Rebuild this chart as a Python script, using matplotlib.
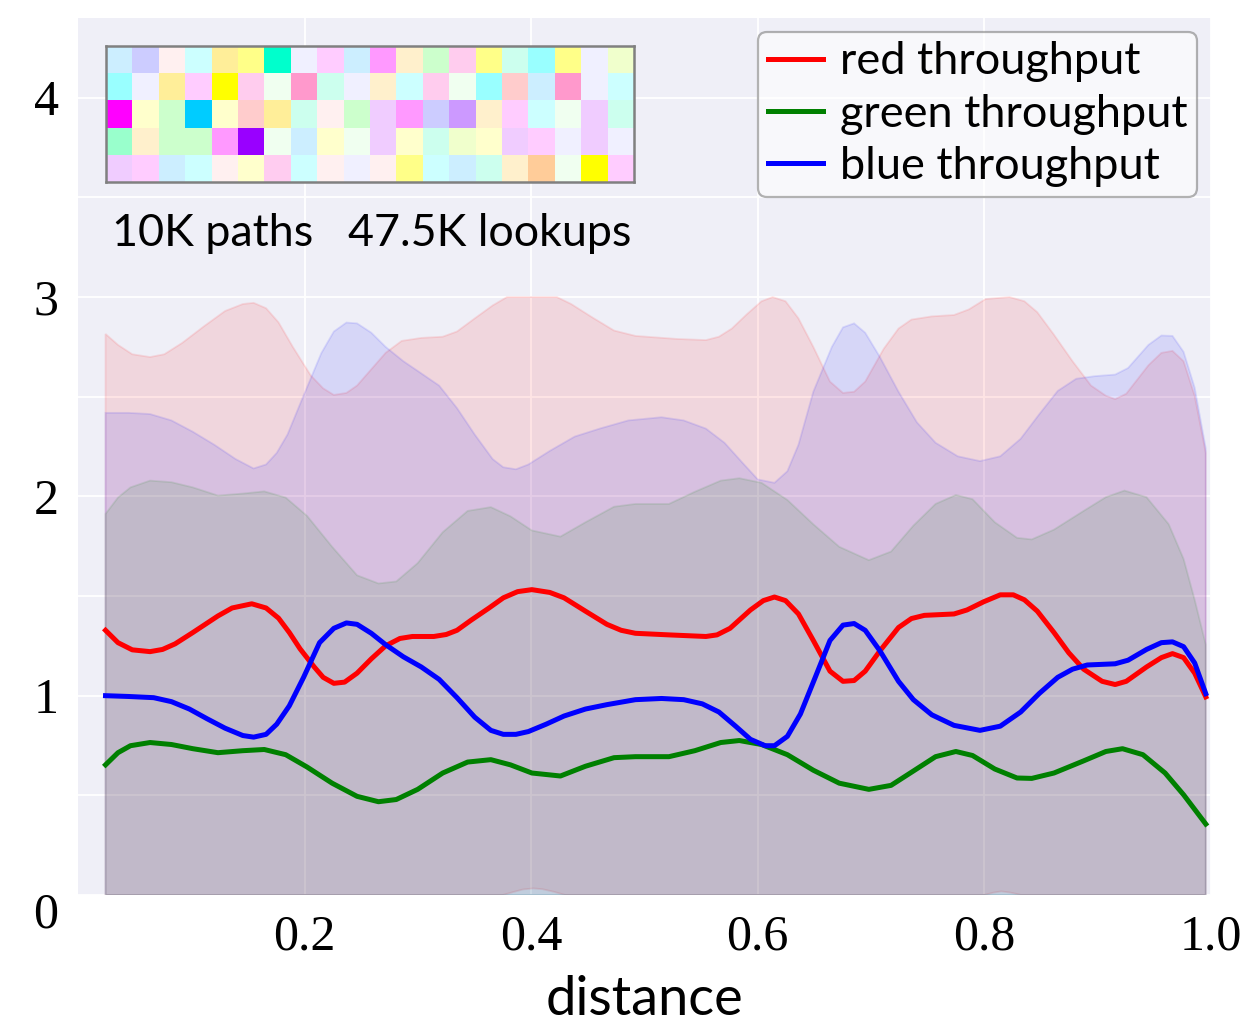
import matplotlib
matplotlib.use("Agg")
import matplotlib.pyplot as plt
import numpy as np
from matplotlib.ticker import MultipleLocator
from matplotlib.transforms import ScaledTranslation

# ---------------- data ----------------
red_x = [0.0243, 0.0353, 0.0479, 0.0636, 0.0746, 0.0857, 0.1014, 0.1235, 0.136, 0.1534,
         0.166, 0.177, 0.1865, 0.196, 0.2085, 0.2164, 0.2258, 0.2353, 0.2463, 0.2589,
         0.2715, 0.2841, 0.2951, 0.314, 0.325, 0.3345, 0.347, 0.3628, 0.3754, 0.388,
         0.4006, 0.4164, 0.429, 0.4479, 0.4668, 0.4794, 0.492, 0.5216, 0.5542, 0.564,
         0.5755, 0.5935, 0.6049, 0.6147, 0.6245, 0.6359, 0.649, 0.6637, 0.6752, 0.685,
         0.6948, 0.7078, 0.7242, 0.7356, 0.747, 0.7732, 0.7846, 0.7993, 0.814, 0.8255,
         0.8353, 0.8467, 0.8614, 0.8745, 0.8876, 0.9039, 0.9154, 0.9252, 0.9431, 0.9562,
         0.966, 0.9758, 0.9856, 0.9954]
red_y = [1.328, 1.266, 1.23, 1.221, 1.232, 1.26, 1.317, 1.40, 1.44, 1.461,
         1.44, 1.389, 1.317, 1.235, 1.144, 1.092, 1.062, 1.068, 1.113, 1.185,
         1.25, 1.287, 1.297, 1.297, 1.307, 1.328, 1.379, 1.44, 1.491, 1.522,
         1.532, 1.518, 1.491, 1.424, 1.358, 1.328, 1.313, 1.305, 1.297, 1.305,
         1.338, 1.43, 1.477, 1.495, 1.477, 1.41, 1.277, 1.123, 1.072, 1.076,
         1.123, 1.225, 1.342, 1.387, 1.403, 1.41, 1.43, 1.471, 1.506, 1.506,
         1.481, 1.424, 1.317, 1.215, 1.133, 1.072, 1.056, 1.072, 1.144, 1.191,
         1.211, 1.191, 1.113, 0.994]

blue_x = [0.0243, 0.0447, 0.0668, 0.0825, 0.0983, 0.114, 0.1298, 0.1455, 0.155, 0.166,
          0.1754, 0.1865, 0.1991, 0.2132, 0.2258, 0.2369, 0.2463, 0.2589, 0.2715, 0.2872,
          0.303, 0.3187, 0.3345, 0.3502, 0.3644, 0.3754, 0.3865, 0.3975, 0.4132, 0.429,
          0.4479, 0.4668, 0.492, 0.515, 0.5346, 0.551, 0.5657, 0.5804, 0.5935, 0.6065,
          0.6147, 0.6261, 0.6376, 0.6507, 0.6637, 0.6752, 0.685, 0.6948, 0.7078, 0.7242,
          0.7373, 0.7536, 0.7732, 0.7961, 0.814, 0.832, 0.8484, 0.8647, 0.8778, 0.8908,
          0.9154, 0.9268, 0.9431, 0.9562, 0.966, 0.9758, 0.9856, 0.9954]
blue_y = [1.0, 0.996, 0.990, 0.970, 0.933, 0.884, 0.837, 0.80, 0.792, 0.806,
          0.857, 0.949, 1.092, 1.266, 1.338, 1.365, 1.358, 1.313, 1.256, 1.195,
          1.144, 1.082, 0.990, 0.892, 0.826, 0.806, 0.806, 0.820, 0.857, 0.898,
          0.933, 0.955, 0.980, 0.986, 0.980, 0.959, 0.918, 0.847, 0.781, 0.749,
          0.749, 0.796, 0.908, 1.092, 1.277, 1.354, 1.362, 1.328, 1.225, 1.072,
          0.980, 0.904, 0.851, 0.826, 0.847, 0.918, 1.011, 1.092, 1.133, 1.154,
          1.160, 1.178, 1.232, 1.266, 1.27, 1.246, 1.164, 1.01]

green_x = [0.0243, 0.0353, 0.0463, 0.0636, 0.0825, 0.1014, 0.1235, 0.1455, 0.1644, 0.1833,
           0.2022, 0.2243, 0.2463, 0.2652, 0.2809, 0.2998, 0.3219, 0.3439, 0.3644, 0.3817,
           0.4006, 0.4258, 0.4479, 0.4731, 0.492, 0.5216, 0.5444, 0.5673, 0.5837, 0.6033,
           0.6261, 0.649, 0.6719, 0.698, 0.7176, 0.7373, 0.7569, 0.7748, 0.7895, 0.8092,
           0.8288, 0.8418, 0.8614, 0.8876, 0.9072, 0.9219, 0.9399, 0.9595, 0.9758, 0.9954]
green_y = [0.653, 0.714, 0.749, 0.765, 0.755, 0.734, 0.714, 0.724, 0.73, 0.704,
           0.642, 0.561, 0.495, 0.468, 0.479, 0.53, 0.612, 0.667, 0.679, 0.653,
           0.612, 0.597, 0.646, 0.689, 0.694, 0.694, 0.724, 0.765, 0.775, 0.755,
           0.704, 0.626, 0.561, 0.53, 0.55, 0.622, 0.694, 0.72, 0.70, 0.632,
           0.587, 0.585, 0.612, 0.673, 0.72, 0.734, 0.704, 0.612, 0.503, 0.356]

# upper edges of the shaded bands
red_up_x = [0.0243, 0.0353, 0.0479, 0.0636, 0.0762, 0.092, 0.1109, 0.1298, 0.1455, 0.155,
            0.166, 0.177, 0.1896, 0.2054, 0.2164, 0.2258, 0.2369, 0.2463, 0.2589, 0.2715,
            0.2857, 0.303, 0.3219, 0.3345, 0.3502, 0.366, 0.3786, 0.4227, 0.4353, 0.4542,
            0.4731, 0.492, 0.5281, 0.5542, 0.5657, 0.5771, 0.5902, 0.6033, 0.6131, 0.6245,
            0.6359, 0.649, 0.6637, 0.6752, 0.685, 0.6948, 0.7111, 0.7242, 0.7356, 0.7536,
            0.7732, 0.7863, 0.801, 0.8222, 0.8353, 0.8467, 0.8614, 0.8778, 0.8941, 0.9072,
            0.9154, 0.9252, 0.9448, 0.9562, 0.966, 0.9758, 0.9856, 0.9954]
red_up_y = [2.815, 2.76, 2.713, 2.699, 2.713, 2.77, 2.852, 2.93, 2.965, 2.971,
            2.944, 2.873, 2.75, 2.607, 2.542, 2.509, 2.519, 2.556, 2.638, 2.72,
            2.78, 2.795, 2.801, 2.827, 2.893, 2.958, 3.0, 3.0, 2.965, 2.897,
            2.832, 2.805, 2.79, 2.784, 2.801, 2.842, 2.913, 2.979, 3.0, 2.979,
            2.893, 2.75, 2.576, 2.519, 2.525, 2.576, 2.74, 2.842, 2.887, 2.903,
            2.91, 2.938, 2.99, 3.0, 2.979, 2.924, 2.811, 2.678, 2.556, 2.505,
            2.488, 2.515, 2.658, 2.72, 2.73, 2.678, 2.505, 2.218]

blue_up_x = [0.0243, 0.0447, 0.0636, 0.0825, 0.1014, 0.1203, 0.1392, 0.155, 0.166, 0.1754,
             0.1849, 0.1975, 0.2148, 0.2258, 0.2369, 0.2463, 0.2589, 0.2715, 0.2872, 0.303,
             0.3187, 0.3345, 0.3502, 0.366, 0.3754, 0.3865, 0.3975, 0.4164, 0.4384, 0.4605,
             0.4857, 0.515, 0.5346, 0.5542, 0.5706, 0.5869, 0.6, 0.6147, 0.6261, 0.6359,
             0.649, 0.6654, 0.6752, 0.685, 0.6948, 0.7078, 0.7242, 0.7405, 0.7569, 0.7765,
             0.7961, 0.814, 0.832, 0.8484, 0.8647, 0.881, 0.8974, 0.9154, 0.9268, 0.9448,
             0.9562, 0.966, 0.9758, 0.9856, 0.9954]
blue_up_y = [2.419, 2.419, 2.413, 2.381, 2.324, 2.259, 2.187, 2.14, 2.16, 2.218,
             2.31, 2.484, 2.719, 2.827, 2.872, 2.868, 2.821, 2.75, 2.678, 2.617,
             2.556, 2.443, 2.31, 2.187, 2.146, 2.136, 2.16, 2.228, 2.30, 2.34,
             2.381, 2.397, 2.381, 2.34, 2.269, 2.166, 2.085, 2.068, 2.126, 2.259,
             2.525, 2.75, 2.848, 2.868, 2.821, 2.699, 2.525, 2.371, 2.269, 2.201,
             2.177, 2.201, 2.289, 2.412, 2.529, 2.59, 2.603, 2.611, 2.644, 2.76,
             2.807, 2.805, 2.725, 2.545, 2.24]

green_up_x = [0.0243, 0.0353, 0.0463, 0.0636, 0.0825, 0.1014, 0.1235, 0.1455, 0.1644, 0.1833,
              0.2022, 0.2243, 0.2463, 0.2652, 0.2809, 0.2998, 0.3219, 0.3439, 0.3644, 0.3817,
              0.4006, 0.4258, 0.4479, 0.4731, 0.492, 0.5216, 0.5444, 0.5673, 0.5837, 0.6033,
              0.6261, 0.649, 0.6719, 0.698, 0.7176, 0.7373, 0.7569, 0.7748, 0.7895, 0.8092,
              0.8288, 0.8418, 0.8614, 0.8876, 0.9072, 0.9236, 0.9431, 0.9627, 0.9758, 0.9856,
              0.9954]
green_up_y = [1.912, 1.994, 2.045, 2.079, 2.071, 2.045, 2.004, 2.014, 2.025, 1.994,
              1.902, 1.747, 1.604, 1.563, 1.573, 1.665, 1.82, 1.927, 1.946, 1.90,
              1.829, 1.798, 1.87, 1.948, 1.962, 1.962, 2.023, 2.079, 2.091, 2.068,
              1.982, 1.86, 1.747, 1.68, 1.723, 1.853, 1.962, 2.007, 1.986, 1.87,
              1.792, 1.784, 1.833, 1.927, 1.996, 2.029, 1.996, 1.86, 1.686, 1.481,
              1.256]

# lower edges of the shaded bands (visible part; zero = bottom of the plot)
red_lo_x = [0.0243, 0.375, 0.385, 0.393, 0.402, 0.41, 0.42, 0.43,
            0.80, 0.808, 0.815, 0.823, 0.8325, 0.9954]
red_lo_y = [0.0, 0.0, 0.016, 0.028, 0.033, 0.029, 0.016, 0.0,
            0.0, 0.012, 0.018, 0.012, 0.0, 0.0]
blue_lo_x = [0.0243, 0.9954]
blue_lo_y = [0.0, 0.0]
green_lo_x = [0.0243, 0.9954]
green_lo_y = [0.0, 0.0]

series_names = ["red throughput", "green throughput", "blue throughput"]
series_colors = ["red", "green", "blue"]

xtick_vals = [0.2, 0.4, 0.6, 0.8, 1.0]
xtick_labels = ["0.2", "0.4", "0.6", "0.8", "1.0"]
ytick_vals = [0, 1, 2, 3, 4]
ytick_labels = ["0", "1", "2", "3", "4"]

inset_colors = [
    ["#CCEEFF", "#CCCCFF", "#FFF0F0", "#CCFFFF", "#FFEE99", "#FFFF88", "#00FFCC", "#F0F0FF", "#FFCCFF", "#CCEEFF",
     "#FF99FF", "#FFF0CC", "#CCFFCC", "#FFCCEE", "#FFFF88", "#CCFFEE", "#99FFFF", "#FFFF88", "#F0F0FF", "#F0FFCC"],
    ["#99FFFF", "#F0F0FF", "#FFEE99", "#FFCCFF", "#FFFF00", "#FFCCEE", "#F0FFF0", "#FF99CC", "#CCFFEE", "#F0F0FF",
     "#FFF0CC", "#CCFFFF", "#FFCCEE", "#F0FFF0", "#99FFFF", "#FFCCCC", "#CCEEFF", "#FF99CC", "#F0F0FF", "#CCFFFF"],
    ["#FF00FF", "#FFFFCC", "#CCFFCC", "#00CCFF", "#FFFFCC", "#FFCCCC", "#FFEE99", "#CCFFEE", "#FFF0F0", "#CCFFCC",
     "#F0CCFF", "#FF99FF", "#CCCCFF", "#CC99FF", "#FFF0CC", "#FFCCFF", "#CCFFFF", "#F0FFF0", "#F0CCFF", "#CCFFEE"],
    ["#99FFCC", "#FFF0CC", "#CCFFCC", "#CCFFCC", "#FF99FF", "#9900FF", "#F0FFF0", "#CCEEFF", "#FFFFCC", "#F0FFF0",
     "#F0CCFF", "#FFFFCC", "#CCFFEE", "#F0FFCC", "#FFFFCC", "#F0CCFF", "#FFCCFF", "#F0F0FF", "#F0CCFF", "#F0F0FF"],
    ["#F0CCFF", "#FFCCFF", "#CCEEFF", "#CCFFFF", "#FFF0F0", "#FFFFCC", "#FFCCF0", "#CCFFFF", "#FFF0F0", "#F0F0FF",
     "#FFF0F0", "#FFFF88", "#CCFFFF", "#CCEEFF", "#CCFFEE", "#FFF0CC", "#FFCC99", "#F0FFF0", "#FFFF00", "#FFCCFF"],
]
inset_text_left = "10K paths"
inset_text_right = "47.5K lookups"
x_label = "distance"

# ---------------- drawing ----------------
W, H = 1241, 1023
SANS = ["Lato", "DejaVu Sans"]
SERIF = ["Liberation Serif", "DejaVu Serif"]

fig = plt.figure(figsize=(W / 100, H / 100), dpi=100)
fig.patch.set_facecolor("white")
ax = fig.add_axes([78 / W, 128 / H, 1133 / W, 877 / H])
ax.set_facecolor("#EFEFF7")
for s in ax.spines.values():
    s.set_visible(False)

bands = [
    (red_up_x, red_up_y, red_lo_x, red_lo_y, "red"),
    (blue_up_x, blue_up_y, blue_lo_x, blue_lo_y, "blue"),
    (green_up_x, green_up_y, green_lo_x, green_lo_y, "green"),
]
for ux, uy, lx, ly, c in bands:
    px = np.concatenate([np.asarray(ux), np.asarray(lx)[::-1]])
    py = np.concatenate([np.asarray(uy), np.asarray(ly)[::-1]])
    ax.fill(px, py, facecolor=c, edgecolor=c, alpha=0.1, lw=1.3, zorder=1)

lines = [(red_x, red_y), (green_x, green_y), (blue_x, blue_y)]
for (lx, ly), name, c in zip(lines, series_names, series_colors):
    ax.plot(lx, ly, color=c, lw=3.6, label=name, zorder=3)

ax.set_xlim(0, 1.0)
ax.set_ylim(0, 4.4)
ax.set_xticks(xtick_vals)
ax.set_xticklabels(xtick_labels, fontfamily=SERIF, fontsize=36)
ax.set_yticks(ytick_vals)
ax.set_yticklabels(ytick_labels, fontfamily=SERIF, fontsize=36)
ax.yaxis.set_minor_locator(MultipleLocator(0.5))
ax.tick_params(which="both", length=0)
ax.tick_params(axis="x", pad=14)
ax.tick_params(axis="y", pad=14)
ax.set_axisbelow(True)
ax.grid(True, which="major", color="white", lw=1.3)
ax.grid(True, which="minor", axis="y", color="white", lw=1.3)

for lab in ax.get_yticklabels():
    if lab.get_text() == "0":
        lab.set_transform(lab.get_transform() + ScaledTranslation(0, -0.15, fig.dpi_scale_trans))

ax.set_xlabel(x_label, fontfamily=SANS, fontsize=39, labelpad=10)

leg = ax.legend(loc="upper right", prop={"family": SANS, "size": 32.5},
                frameon=True, fancybox=True, framealpha=0.6, facecolor="white",
                edgecolor="#808080", handlelength=1.22, handletextpad=0.38,
                borderpad=0.22, labelspacing=0.25, borderaxespad=0.3)
leg.get_frame().set_linewidth(1.6)

# inset picture
axi = fig.add_axes([106 / W, 1 - 182 / H, 528 / W, 136 / H])
rgb = np.array([[matplotlib.colors.to_rgb(c) for c in row] for row in inset_colors])
axi.imshow(rgb, aspect="auto", interpolation="nearest")
axi.set_xticks([])
axi.set_yticks([])
for s in axi.spines.values():
    s.set_color("#808080")
    s.set_linewidth(1.8)

fig.text(112 / W, 1 - 246 / H, inset_text_left, fontfamily=SANS, fontsize=32.3, va="baseline", ha="left")
fig.text(348 / W, 1 - 246 / H, inset_text_right, fontfamily=SANS, fontsize=32.3, va="baseline", ha="left")

fig.savefig("out.png", dpi=100)
